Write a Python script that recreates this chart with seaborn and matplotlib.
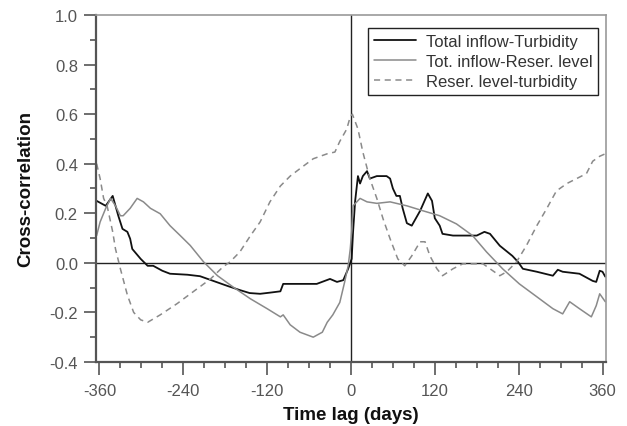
import numpy as np
import pandas as pd
import seaborn as sns
import matplotlib.pyplot as plt
from matplotlib.ticker import MultipleLocator

# Total inflow - Turbidity
lag_tt = [-364, -351, -341, -333, -327, -320, -316, -313, -301, -291, -283, -270, -259, -234,
          -216, -197, -177, -159, -145, -130, -115, -101, -97, -73, -49, -30, -20, -11, -4, 1,
          3, 6, 10, 13, 17, 23, 27, 37, 51, 56, 60, 65, 70, 74, 80, 87, 99, 110, 116, 120,
          127, 131, 146, 166, 180, 191, 199, 213, 231, 239, 246, 266, 289, 296, 303, 327, 346,
          351, 356, 360, 364]
val_tt = [0.25, 0.23, 0.27, 0.19, 0.137, 0.125, 0.097, 0.056, 0.016, -0.012, -0.012, -0.032,
          -0.044, -0.048, -0.054, -0.073, -0.093, -0.11, -0.122, -0.125, -0.12, -0.115, -0.085,
          -0.085, -0.085, -0.065, -0.077, -0.07, -0.024, 0.016, 0.125, 0.25, 0.35, 0.32, 0.35,
          0.37, 0.34, 0.35, 0.35, 0.34, 0.30, 0.27, 0.27, 0.22, 0.16, 0.15, 0.21, 0.28, 0.25,
          0.18, 0.15, 0.117, 0.11, 0.11, 0.11, 0.125, 0.117, 0.069, 0.028, 0.004, -0.024,
          -0.036, -0.052, -0.028, -0.036, -0.044, -0.073, -0.077, -0.032, -0.036, -0.056]

# Tot. inflow - Reser. level
lag_tr = [-364, -359, -351, -344, -337, -330, -326, -316, -306, -297, -287, -273, -259, -244,
          -230, -211, -191, -169, -144, -120, -101, -97, -87, -73, -54, -41, -34, -26, -16, -9,
          -4, -1, 1, 3, 13, 23, 37, 56, 80, 103, 127, 151, 174, 194, 217, 241, 266, 289, 303,
          313, 327, 344, 351, 356, 364]
val_tr = [0.11, 0.165, 0.22, 0.26, 0.23, 0.19, 0.19, 0.22, 0.26, 0.246, 0.22, 0.198, 0.15,
          0.109, 0.07, 0.004, -0.052, -0.097, -0.145, -0.185, -0.218, -0.21, -0.25, -0.28,
          -0.30, -0.28, -0.24, -0.21, -0.16, -0.077, -0.012, 0.056, 0.125, 0.23, 0.26, 0.246,
          0.24, 0.246, 0.23, 0.21, 0.19, 0.157, 0.11, 0.044, -0.024, -0.085, -0.137, -0.185,
          -0.206, -0.157, -0.185, -0.218, -0.173, -0.125, -0.157]

# Reser. level - turbidity
lag_rl = [-364, -359, -354, -349, -341, -337, -330, -320, -311, -301, -291, -273, -249, -226,
          -201, -183, -173, -159, -144, -130, -116, -101, -87, -73, -54, -34, -23, -16, -6, -1,
          2, 10, 17, 27, 37, 46, 56, 67, 77, 87, 99, 106, 113, 123, 131, 146, 160, 174, 189,
          203, 213, 223, 237, 251, 266, 280, 294, 309, 323, 337, 346, 356, 364]
val_rl = [0.40, 0.34, 0.26, 0.23, 0.125, 0.056, -0.024, -0.13, -0.20, -0.23, -0.24, -0.21,
          -0.165, -0.117, -0.065, -0.016, 0.004, 0.044, 0.109, 0.165, 0.246, 0.31, 0.35, 0.38,
          0.42, 0.44, 0.447, 0.49, 0.54, 0.59, 0.60, 0.54, 0.447, 0.34, 0.26, 0.177, 0.097,
          0.016, -0.012, 0.028, 0.085, 0.085, 0.028, -0.024, -0.052, -0.024, -0.004, -0.004,
          -0.004, -0.032, -0.052, -0.036, 0.004, 0.069, 0.15, 0.218, 0.29, 0.32, 0.34, 0.36,
          0.41, 0.43, 0.44]

labels = ['Total inflow-Turbidity', 'Tot. inflow-Reser. level', 'Reser. level-turbidity']

sns.set_style('white')
plt.rcParams['font.family'] = ['Liberation Sans', 'DejaVu Sans']
plt.rcParams['axes.unicode_minus'] = False

fig = plt.figure(figsize=(6.27, 4.27), dpi=100)
ax = fig.add_axes([0.153, 0.150, 0.8135, 0.8125])

ax.axhline(0, color='#222222', lw=1.0, zorder=1)
ax.axvline(0, color='#222222', lw=1.0, zorder=1)

df_tt = pd.DataFrame({'lag': lag_tt, 'r': val_tt})
df_tr = pd.DataFrame({'lag': lag_tr, 'r': val_tr})
df_rl = pd.DataFrame({'lag': lag_rl, 'r': val_rl})

sns.lineplot(data=df_tt, x='lag', y='r', ax=ax, color='#111111', lw=1.3,
             estimator=None, label=labels[0])
sns.lineplot(data=df_tr, x='lag', y='r', ax=ax, color='#8a8a8a', lw=1.1,
             estimator=None, label=labels[1])
sns.lineplot(data=df_rl, x='lag', y='r', ax=ax, color='#8a8a8a', lw=1.1,
             estimator=None, label=labels[2])
ax.lines[-1].set_dashes([4, 3])

ax.set_xlim(-365, 365)
ax.set_ylim(-0.4, 1.0)
ax.set_xticks([-360, -240, -120, 0, 120, 240, 360])
ax.xaxis.set_minor_locator(MultipleLocator(30))
ax.yaxis.set_major_locator(MultipleLocator(0.2))
ax.yaxis.set_minor_locator(MultipleLocator(0.1))
ax.set_yticklabels([f'{v:.1f}' for v in ax.get_yticks()])

ax.tick_params(which='major', direction='out', length=9, width=1.2, color='#555555',
               labelsize=12, labelcolor='#555555', left=True, bottom=True)
ax.tick_params(which='minor', direction='out', length=4.5, width=1.2, color='#555555',
               left=True, bottom=True)
ax.tick_params(axis='x', which='major', pad=6)
ax.tick_params(axis='y', which='major', pad=4)

for side in ['left', 'bottom']:
    ax.spines[side].set_color('#555555')
    ax.spines[side].set_linewidth(1.6)
for side in ['top', 'right']:
    ax.spines[side].set_color('#9a9a9a')
    ax.spines[side].set_linewidth(1.2)

ax.set_xlabel('Time lag (days)', fontsize=13.5, fontweight='bold', color='#111111', labelpad=6)
ax.set_ylabel('Cross-correlation', fontsize=13.5, fontweight='bold', color='#111111', labelpad=11)

leg = ax.legend(loc='upper right', bbox_to_anchor=(0.985, 0.962), borderaxespad=0,
                fontsize=12, fancybox=False, framealpha=1, edgecolor='#222222',
                handlelength=2.5, handletextpad=0.6, labelspacing=0.3, borderpad=0.35)
leg.get_frame().set_linewidth(1.0)
for t in leg.get_texts():
    t.set_color('#333333')

fig.savefig('out.png', dpi=100)
